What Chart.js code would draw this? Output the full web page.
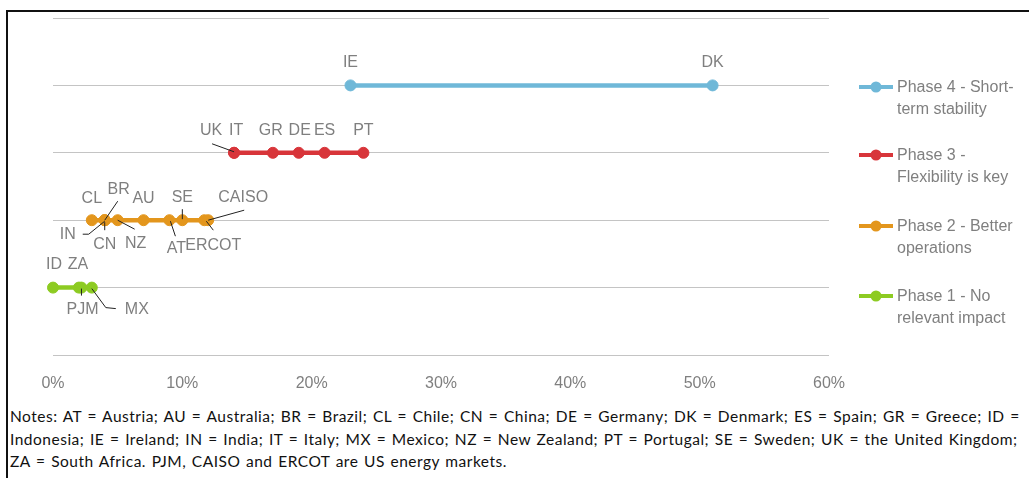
<!DOCTYPE html>
<html>
<head>
<meta charset="utf-8">
<script src="https://cdn.jsdelivr.net/npm/chart.js@4.4.1/dist/chart.umd.min.js"></script>
<style>
  html, body { margin: 0; padding: 0; background: #fff; overflow: hidden; }
  body { width: 1029px; height: 478px; position: relative; }
  #frame { position: absolute; left: 6px; top: 10px; width: 1100px; height: 600px; border-top: 2px solid #111; border-left: 2px solid #111; }
  #wrap { position: absolute; left: 0; top: 0; width: 1029px; height: 400px; }
  #notes { position: absolute; left: 10px; top: 405px; width: 1100px; font-family: Lato, sans-serif; font-size: 15.5px; line-height: 22.5px; letter-spacing: 0.5px; word-spacing: 1.2px; color: #111; white-space: nowrap; }
</style>
</head>
<body>
<div id="frame"></div>
<div id="wrap"><canvas id="chart" width="1029" height="400"></canvas></div>
<div id="notes">
  <div>Notes: AT = Austria; AU = Australia; BR = Brazil; CL = Chile; CN = China; DE = Germany; DK = Denmark; ES = Spain; GR = Greece; ID =</div>
  <div>Indonesia; IE = Ireland; IN = India; IT = Italy; MX = Mexico; NZ = New Zealand; PT = Portugal; SE = Sweden; UK = the United Kingdom;</div>
  <div>ZA = South Africa. PJM, CAISO and ERCOT are US energy markets.</div>
</div>
<script>
// Phases, bottom to top
const phaseNames = [
  ["Phase 1 - No", "relevant impact"],
  ["Phase 2 - Better", "operations"],
  ["Phase 3 -", "Flexibility is key"],
  ["Phase 4 - Short-", "term stability"],
];
const phaseColors = ["#8dcb22", "#e3961d", "#d8353a", "#6fb8d8"];

// Share of variable renewables (%) per market
const phase1Codes = ["ID", "ZA", "PJM", "MX"];
const phase1Values = [0, 2, 2.2, 3];
const phase2Codes = ["CL", "IN", "BR", "CN", "NZ", "AU", "AT", "SE", "ERCOT", "CAISO"];
const phase2Values = [3, 4, 4, 4, 5, 7, 9, 10, 11.7, 12];
const phase3Codes = ["UK", "IT", "GR", "DE", "ES", "PT"];
const phase3Values = [14, 14, 17, 19, 21, 24];
const phase4Codes = ["IE", "DK"];
const phase4Values = [23, 51];

const xTicks = [0, 10, 20, 30, 40, 50, 60];

const allCodes = [phase1Codes, phase2Codes, phase3Codes, phase4Codes];
const allValues = [phase1Values, phase2Values, phase3Values, phase4Values];

// label placement relative to the point (px), with optional leader line
const labelSpots = {
  IE: { dx: 0, dy: -23 }, DK: { dx: 0, dy: -23 },
  UK: { dx: -23, dy: -22, lead: [[-22, -9], [0, -1]] },
  IT: { dx: 2, dy: -22 }, GR: { dx: -2, dy: -22 }, DE: { dx: 1, dy: -22 },
  ES: { dx: 0, dy: -22 }, PT: { dx: 0, dy: -22 },
  CL: { dx: 0, dy: -22 },
  BR: { dx: 14, dy: -31, lead: [[13, -19], [0, 0]] },
  IN: { dx: -37, dy: 14, lead: [[-22, 14], [-16, 14], [0, 1]] },
  CN: { dx: 0, dy: 24, lead: [[0, 2], [0, 10]] },
  NZ: { dx: 18, dy: 23, lead: [[17, 9], [0, 0]] },
  AU: { dx: 0, dy: -22 },
  AT: { dx: 7, dy: 28, lead: [[6, 16], [1, 1]] },
  SE: { dx: 0, dy: -23, lead: [[0, -11], [0, -1]] },
  ERCOT: { dx: 9, dy: 25, lead: [[9, 10], [2, 1]] },
  CAISO: { dx: 35, dy: -23, lead: [[36, -10], [0, 0]] },
  ID: { dx: 1, dy: -23 }, ZA: { dx: -1, dy: -23 },
  PJM: { dx: 1, dy: 22, lead: [[0, 1], [0, 8]] },
  MX: { dx: 45, dy: 22, lead: [[0, 1], [14, 20], [24, 21]] },
};

const FONT = "'Liberation Sans', Arial, sans-serif";
const GREY = "#7f7f7f";

const datasets = allValues.map((vals, i) => ({
  label: phaseNames[i].join(" "),
  codes: allCodes[i],
  data: vals.map((v) => ({ x: v, y: i + 1 })),
  showLine: true,
  clip: false,
  borderColor: phaseColors[i],
  backgroundColor: phaseColors[i],
  borderWidth: 4.5,
  pointRadius: 5.5,
  pointBorderWidth: 1,
  pointHoverRadius: 5.5,
}));

const codeLabels = {
  id: "codeLabels",
  afterDatasetsDraw(chart) {
    const ctx = chart.ctx;
    ctx.save();
    chart.data.datasets.forEach((ds, i) => {
      const meta = chart.getDatasetMeta(i);
      meta.data.forEach((pt, j) => {
        const spot = labelSpots[ds.codes[j]] || { dx: 0, dy: -23 };
        if (spot.lead) {
          ctx.strokeStyle = "#222";
          ctx.lineWidth = 1;
          ctx.beginPath();
          spot.lead.forEach(([lx, ly], k) => {
            if (k === 0) ctx.moveTo(pt.x + lx, pt.y + ly);
            else ctx.lineTo(pt.x + lx, pt.y + ly);
          });
          ctx.stroke();
        }
        ctx.fillStyle = GREY;
        ctx.font = "16px " + FONT;
        ctx.textAlign = "center";
        ctx.textBaseline = "middle";
        ctx.fillText(ds.codes[j], pt.x + spot.dx, pt.y + spot.dy);
      });
    });
    ctx.restore();
  },
};

// legend on the right, top phase first
const sideLegend = {
  id: "sideLegend",
  afterDraw(chart) {
    const ctx = chart.ctx;
    const rows = [296, 226, 155, 87];
    ctx.save();
    chart.data.datasets.forEach((ds, i) => {
      const y = rows[i];
      ctx.strokeStyle = ds.borderColor;
      ctx.lineWidth = 4;
      ctx.beginPath();
      ctx.moveTo(859, y);
      ctx.lineTo(893, y);
      ctx.stroke();
      ctx.fillStyle = ds.borderColor;
      ctx.beginPath();
      ctx.arc(876, y, 5.5, 0, Math.PI * 2);
      ctx.fill();
      ctx.fillStyle = GREY;
      ctx.font = "16px " + FONT;
      ctx.textAlign = "left";
      ctx.textBaseline = "middle";
      phaseNames[i].forEach((line, k) => ctx.fillText(line, 897, y + 1 + k * 22));
    });
    ctx.restore();
  },
};

new Chart(document.getElementById("chart"), {
  type: "scatter",
  data: { datasets },
  plugins: [codeLabels, sideLegend],
  options: {
    responsive: false,
    animation: false,
    devicePixelRatio: 1,
    layout: { padding: { left: 53, right: 200, top: 18, bottom: 0 } },
    plugins: { legend: { display: false }, tooltip: { enabled: false } },
    scales: {
      x: {
        type: "linear",
        min: 0,
        max: 60,
        afterBuildTicks: (scale) => { scale.ticks = xTicks.map((v) => ({ value: v })); },
        afterFit: (scale) => { scale.height = 45; },
        ticks: {
          callback: (v) => v + "%",
          color: GREY,
          font: { family: FONT, size: 16 },
          padding: 11,
          maxRotation: 0,
        },
        grid: { display: false },
        border: { display: false },
      },
      y: {
        type: "linear",
        min: 0,
        max: 5,
        afterFit: (scale) => { scale.width = 0; },
        ticks: { display: false, stepSize: 1 },
        grid: { color: "#c4c4c4", lineWidth: 1, drawTicks: false },
        border: { display: false },
      },
    },
  },
});
</script>
</body>
</html>
